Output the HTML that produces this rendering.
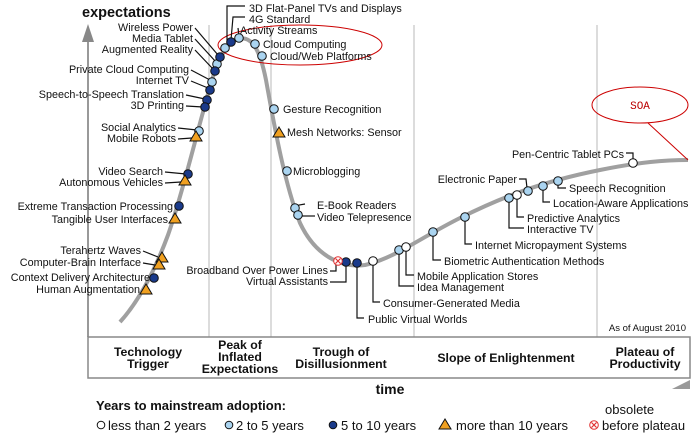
<!DOCTYPE html>
<html><head><meta charset="utf-8"><style>
body{margin:0;background:#fff;}
svg text{font-family:"Liberation Sans",Arial,sans-serif;font-size:10.8px;fill:#111;}
.b{font-weight:bold;font-size:12.3px;}
</style></head><body>
<svg width="700" height="438" viewBox="0 0 700 438" xmlns="http://www.w3.org/2000/svg">
<g stroke="#d0d0d0" stroke-width="1.5">
<line x1="209" y1="25" x2="209" y2="337"/>
<line x1="271" y1="25" x2="271" y2="337"/>
<line x1="414" y1="25" x2="414" y2="337"/>
<line x1="597" y1="25" x2="597" y2="337"/>
</g>
<line x1="88" y1="38" x2="88" y2="337" stroke="#999" stroke-width="2"/>
<polygon points="82,42 94,42 88,24" fill="#888"/>
<text x="82" y="17" style="font-size:14.5px;font-weight:bold">expectations</text>
<rect x="88" y="337" width="602" height="41" fill="none" stroke="#888" stroke-width="1.5"/>
<polygon points="672,389 690,380 690,389" fill="#999"/>
<text class="b" x="148" y="356" text-anchor="middle">Technology</text>
<text class="b" x="148" y="368" text-anchor="middle">Trigger</text>
<text class="b" x="240" y="349" text-anchor="middle">Peak of</text>
<text class="b" x="240" y="361" text-anchor="middle">Inflated</text>
<text class="b" x="240" y="373" text-anchor="middle">Expectations</text>
<text class="b" x="341" y="356" text-anchor="middle">Trough of</text>
<text class="b" x="341" y="368" text-anchor="middle">Disillusionment</text>
<text class="b" x="506" y="362" text-anchor="middle">Slope of Enlightenment</text>
<text class="b" x="645" y="356" text-anchor="middle">Plateau of</text>
<text class="b" x="645" y="368" text-anchor="middle">Productivity</text>
<text x="390" y="394" style="font-size:14px;font-weight:bold" text-anchor="middle">time</text>
<text x="96" y="410" style="font-size:13px;font-weight:bold">Years to mainstream adoption:</text>
<text x="686" y="331" text-anchor="end" style="font-size:9.5px">As of August 2010</text>
<path d="M120,322 C140,300 155,270 168,235 C182,195 195,140 205,105 C214,70 222,45 238,39 C252,35 260,50 266,80 C275,130 285,185 300,223 C315,255 340,268 365,265 C395,258 420,238 460,218 C500,198 540,182 600,170 C640,162 665,160 688,160" fill="none" stroke="#a0a0a0" stroke-width="4"/>
<ellipse cx="300" cy="45" rx="82" ry="20" fill="none" stroke="#c00" stroke-width="1"/>
<ellipse cx="640" cy="105" rx="48" ry="18" fill="none" stroke="#c00" stroke-width="1"/>
<line x1="648" y1="123" x2="688" y2="160" stroke="#c00" stroke-width="1"/>
<text x="640" y="109" text-anchor="middle" style="font-family:'Liberation Mono',monospace;font-size:11px;fill:#b00">SOA</text>
<g stroke="#111" stroke-width="1.2" fill="none">
<polyline points="245,6 227,6 227,46"/><polyline points="245,17 233,17 231,40"/><line x1="238" y1="28" x2="239" y2="36"/>
<line x1="195" y1="28" x2="218" y2="55"/><line x1="195" y1="39" x2="216" y2="62"/><line x1="195" y1="50" x2="213" y2="69"/>
<line x1="191" y1="70" x2="210" y2="80"/><line x1="191" y1="81" x2="208" y2="88"/><line x1="186" y1="95" x2="205" y2="99"/><line x1="186" y1="106" x2="203" y2="107"/>
<line x1="178" y1="128" x2="197" y2="130"/><line x1="178" y1="139" x2="192" y2="138"/>
<line x1="165" y1="172" x2="186" y2="174"/><line x1="165" y1="183" x2="181" y2="182"/>
<line x1="143" y1="251" x2="158" y2="257"/><line x1="143" y1="263" x2="155" y2="265"/>
<polyline points="330,271 336,271 336,264"/><polyline points="330,282 346,282 346,265"/>
<polyline points="357,265 357,318 364,318"/><polyline points="373,264 373,302 380,302"/>
<polyline points="399,253 399,286 414,286"/><polyline points="406,250 406,275 414,275"/>
<polyline points="433,235 433,260 441,260"/><polyline points="465,220 465,244 472,244"/>
<polyline points="509,201 509,228 524,228"/><polyline points="517,198 517,217 524,217"/>
<polyline points="519,179 526,179 527,188"/><polyline points="543,189 543,202 550,202"/><polyline points="558,184 558,188 566,188"/>
<polyline points="626,153 633,153 633,160"/>
<polyline points="305,204 299,205 296,208"/><polyline points="315,216 300,216"/>
</g>
<g text-anchor="end">
<text x="193" y="31">Wireless Power</text><text x="193" y="42">Media Tablet</text><text x="193" y="53">Augmented Reality</text>
<text x="189" y="73">Private Cloud Computing</text><text x="189" y="84">Internet TV</text>
<text x="184" y="98">Speech-to-Speech Translation</text><text x="184" y="109">3D Printing</text>
<text x="176" y="131">Social Analytics</text><text x="176" y="142">Mobile Robots</text>
<text x="163" y="175">Video Search</text><text x="163" y="186">Autonomous Vehicles</text>
<text x="173" y="210">Extreme Transaction Processing</text><text x="168" y="223">Tangible User Interfaces</text>
<text x="141" y="254">Terahertz Waves</text><text x="141" y="266">Computer-Brain Interface</text>
<text x="150" y="281">Context Delivery Architecture</text><text x="140" y="293">Human Augmentation</text>
<text x="328" y="274">Broadband Over Power Lines</text><text x="328" y="285">Virtual Assistants</text>
<text x="517" y="183">Electronic Paper</text><text x="624" y="158">Pen-Centric Tablet PCs</text>
</g>
<text x="249" y="12">3D Flat-Panel TVs and Displays</text><text x="249" y="23">4G Standard</text><text x="240" y="34">Activity Streams</text>
<text x="263" y="48">Cloud Computing</text><text x="270" y="60">Cloud/Web Platforms</text>
<text x="283" y="113">Gesture Recognition</text><text x="287" y="136">Mesh Networks: Sensor</text>
<text x="293" y="175">Microblogging</text><text x="317" y="209">E-Book Readers</text><text x="317" y="221">Video Telepresence</text>
<text x="368" y="323">Public Virtual Worlds</text><text x="383" y="307">Consumer-Generated Media</text>
<text x="417" y="280">Mobile Application Stores</text><text x="417" y="291">Idea Management</text>
<text x="444" y="265">Biometric Authentication Methods</text><text x="475" y="249">Internet Micropayment Systems</text>
<text x="527" y="222">Predictive Analytics</text><text x="527" y="233">Interactive TV</text>
<text x="553" y="207">Location-Aware Applications</text><text x="569" y="192">Speech Recognition</text>
<g stroke="#111" stroke-width="1">
<g fill="#aad4f0">
<circle cx="239" cy="38" r="4.3"/><circle cx="225" cy="48" r="4.3"/><circle cx="217" cy="64" r="4.3"/><circle cx="212" cy="82" r="4.3"/>
<circle cx="199" cy="131" r="4.3"/><circle cx="255" cy="44" r="4.3"/><circle cx="262" cy="56" r="4.3"/><circle cx="274" cy="109" r="4.3"/>
<circle cx="287" cy="171" r="4.3"/><circle cx="295" cy="208" r="4.3"/><circle cx="298" cy="215" r="4.3"/>
<circle cx="399" cy="250" r="4.3"/><circle cx="433" cy="232" r="4.3"/><circle cx="465" cy="217" r="4.3"/><circle cx="509" cy="198" r="4.3"/>
<circle cx="528" cy="191" r="4.3"/><circle cx="543" cy="186" r="4.3"/><circle cx="558" cy="181" r="4.3"/>
</g>
<g fill="#1a3a8a">
<circle cx="231" cy="42" r="4.3"/><circle cx="220" cy="57" r="4.3"/><circle cx="215" cy="71" r="4.3"/><circle cx="210" cy="90" r="4.3"/>
<circle cx="207" cy="100" r="4.3"/><circle cx="205" cy="107" r="4.3"/><circle cx="188" cy="174" r="4.3"/><circle cx="179" cy="206" r="4.3"/>
<circle cx="154" cy="278" r="4.3"/><circle cx="346" cy="262" r="4.3"/><circle cx="357" cy="263" r="4.3"/>
</g>
<g fill="#fff">
<circle cx="373" cy="261" r="4.3"/><circle cx="406" cy="247" r="4.3"/><circle cx="517" cy="195" r="4.3"/><circle cx="633" cy="163" r="4.3"/>
</g>
<g fill="#f0a020">
<polygon points="196,131 190,141 202,141"/><polygon points="185,175 179,185 191,185"/><polygon points="175,213 169,223 181,223"/>
<polygon points="162,252 156,262 168,262"/><polygon points="159,259 153,269 165,269"/><polygon points="146,284 140,294 152,294"/>
<polygon points="279,127 273,137 285,137"/>
</g>
<circle cx="338" cy="261" r="4.3" fill="#fff" stroke="#e03030"/>
</g>
<path d="M335.5,258.5 L340.5,263.5 M340.5,258.5 L335.5,263.5" stroke="#e03030" stroke-width="1.2"/>
<g stroke="#111" stroke-width="1">
<circle cx="101" cy="425" r="3.8" fill="#fff"/><circle cx="229" cy="425" r="3.8" fill="#aad4f0"/>
<circle cx="333" cy="425" r="3.8" fill="#1a3a8a"/><polygon points="445,419 439,429 451,429" fill="#f0a020"/>
<circle cx="594" cy="425" r="4.3" fill="#fff" stroke="#e03030"/>
</g>
<path d="M591.5,422.5 L596.5,427.5 M596.5,422.5 L591.5,427.5" stroke="#e03030" stroke-width="1.2"/>
<text x="108" y="430" style="font-size:13px">less than 2 years</text>
<text x="236" y="430" style="font-size:13px">2 to 5 years</text>
<text x="341" y="430" style="font-size:13px">5 to 10 years</text>
<text x="456" y="430" style="font-size:13px">more than 10 years</text>
<text x="602" y="430" style="font-size:13px">before plateau</text>
<text x="605" y="414" style="font-size:13px">obsolete</text>
</svg>
</body></html>
